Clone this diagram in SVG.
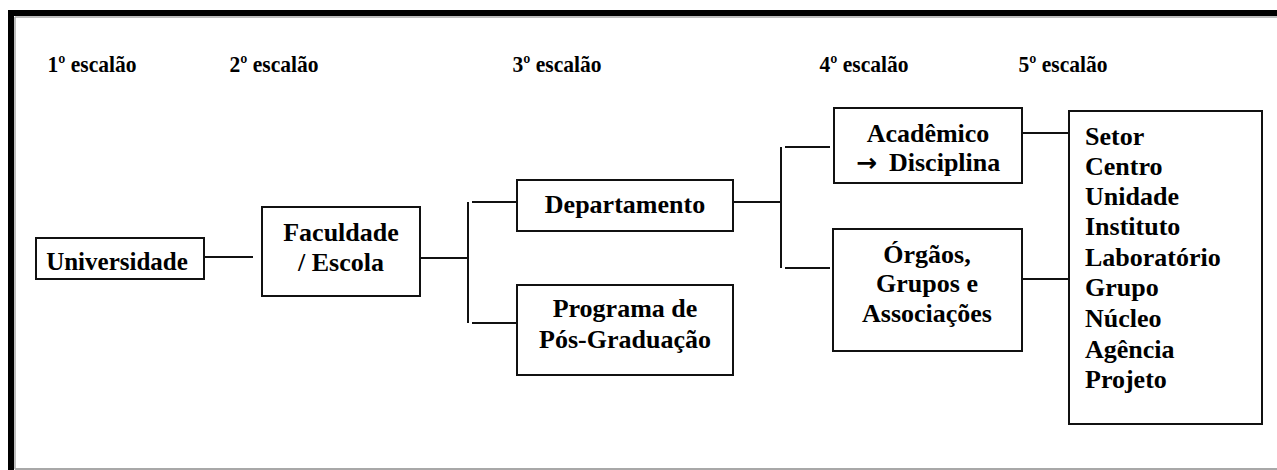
<svg xmlns="http://www.w3.org/2000/svg" width="1277" height="470" viewBox="0 0 1277 470">
<style>
.box{fill:#fff;stroke:#111;stroke-width:2}
.con{fill:none;stroke:#111;stroke-width:2}
text{font-family:"Liberation Serif","Times New Roman",serif;font-weight:bold;fill:#000}
.h{font-size:23px;text-anchor:middle}
.n{font-size:26px;text-anchor:middle}
.l{font-size:26px}
.arr{font-family:"DejaVu Sans",sans-serif;font-weight:bold}
</style>
<rect width="1277" height="470" fill="#fff"/>
<g id="frame">
<line x1="15" y1="469" x2="1277" y2="469" stroke="#a8a8a8" stroke-width="2"/>
<line x1="15" y1="17" x2="1277" y2="17" stroke="#a8a8a8" stroke-width="1.5"/>
<line x1="15" y1="17" x2="15" y2="469" stroke="#a8a8a8" stroke-width="1.5"/>
<rect x="8" y="10" width="1269" height="6" fill="#000"/>
<rect x="8" y="10" width="6" height="460" fill="#000"/>
</g>
<g id="headers">
<text class="h" x="92" y="72" textLength="89" lengthAdjust="spacingAndGlyphs">1º escalão</text>
<text class="h" x="274" y="72" textLength="89" lengthAdjust="spacingAndGlyphs">2º escalão</text>
<text class="h" x="557" y="72" textLength="89" lengthAdjust="spacingAndGlyphs">3º escalão</text>
<text class="h" x="864" y="72" textLength="89" lengthAdjust="spacingAndGlyphs">4º escalão</text>
<text class="h" x="1063" y="72" textLength="89" lengthAdjust="spacingAndGlyphs">5º escalão</text>
</g>
<g id="connectors">
<line class="con" x1="205" y1="257" x2="253" y2="257"/>
<line class="con" x1="421" y1="258" x2="468" y2="258"/>
<line class="con" x1="468" y1="202" x2="468" y2="323"/>
<line class="con" x1="472" y1="202" x2="517" y2="202"/>
<line class="con" x1="472" y1="323" x2="517" y2="323"/>
<line class="con" x1="734" y1="202" x2="781" y2="202"/>
<line class="con" x1="781" y1="147" x2="781" y2="268"/>
<line class="con" x1="785" y1="147" x2="830" y2="147"/>
<line class="con" x1="785" y1="268" x2="830" y2="268"/>
<line class="con" x1="1022" y1="133" x2="1069" y2="133"/>
<line class="con" x1="1022" y1="279" x2="1069" y2="279"/>
</g>
<g id="universidade">
<rect class="box" x="36" y="238" width="168" height="41"/>
<text class="n" x="117" y="270" style="font-size:25px">Universidade</text>
</g>
<g id="faculdade">
<rect class="box" x="262" y="207" width="158" height="89"/>
<text class="n" x="341" y="241">Faculdade</text>
<text class="n" x="341" y="271">/ Escola</text>
</g>
<g id="departamento">
<rect class="box" x="517" y="180" width="216" height="51"/>
<text class="n" x="625" y="213">Departamento</text>
</g>
<g id="programa">
<rect class="box" x="517" y="285" width="216" height="90"/>
<text class="n" x="625" y="317">Programa de</text>
<text class="n" x="625" y="348">Pós-Graduação</text>
</g>
<g id="academico">
<rect class="box" x="834" y="108" width="188" height="75"/>
<text class="n" x="928" y="142">Acadêmico</text>
<text class="l" x="856" y="171"><tspan class="arr" font-size="25">→</tspan><tspan x="889">Disciplina</tspan></text>
</g>
<g id="orgaos">
<rect class="box" x="833" y="229" width="189" height="122"/>
<text class="n" x="927" y="263">Órgãos,</text>
<text class="n" x="927" y="292">Grupos e</text>
<text class="n" x="927" y="322">Associações</text>
</g>
<g id="quinto">
<rect class="box" x="1069" y="111" width="193" height="313"/>
<text class="l" x="1085" y="145">Setor</text>
<text class="l" x="1085" y="175">Centro</text>
<text class="l" x="1085" y="205">Unidade</text>
<text class="l" x="1085" y="235">Instituto</text>
<text class="l" x="1085" y="266">Laboratório</text>
<text class="l" x="1085" y="296">Grupo</text>
<text class="l" x="1085" y="327">Núcleo</text>
<text class="l" x="1085" y="358">Agência</text>
<text class="l" x="1085" y="388">Projeto</text>
</g>
</svg>
